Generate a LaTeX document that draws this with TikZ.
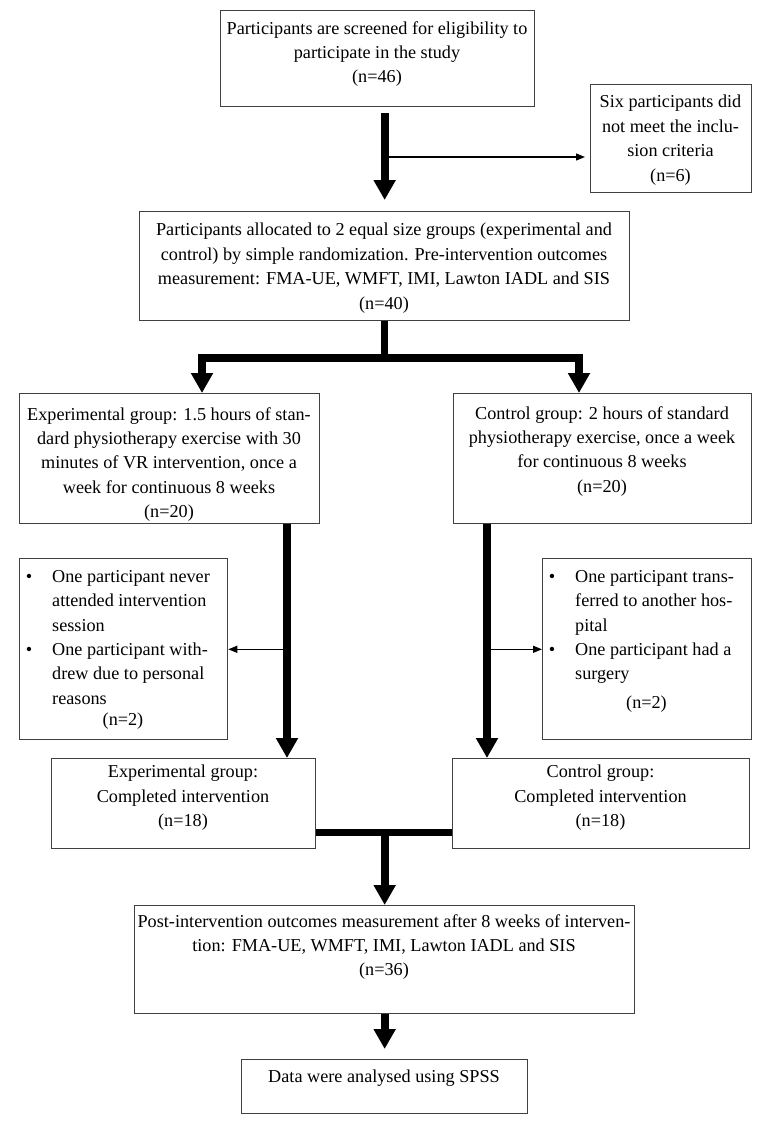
\documentclass[tikz,border=0pt]{standalone}
\usepackage{fontspec}
\setmainfont{Liberation Serif}
\usetikzlibrary{arrows.meta,calc}
\newcommand\figfont{\fontsize{18.2pt}{24.4pt}\selectfont}
\begin{document}
\begin{tikzpicture}[x=1pt,y=-1pt,
  box/.style={draw=black!75, line width=1.3pt, inner sep=0pt, anchor=north west},
  txt/.style={inner sep=0pt, align=center, font=\figfont, anchor=north},
  ltxt/.style={inner sep=0pt, align=left, font=\figfont, anchor=north west},
  ntxt/.style={inner sep=0pt, font=\figfont, anchor=base},
  thk/.style={line width=8pt, -{Triangle[width=21pt,length=20pt]}},
  thkboth/.style={line width=8pt, {Triangle[width=21pt,length=20pt]}-{Triangle[width=21pt,length=20pt]}},
  thkline/.style={line width=7pt},
  thn/.style={line width=1.3pt, -{Triangle[width=7pt,length=9pt]}}]
\useasboundingbox (0,0) rectangle (768,1129);
\fill[white] (0,0) rectangle (768,1129);

% boxes
\node[box, minimum width=314pt, minimum height=96pt]  (b1)  at (220,10) {};
\node[box, minimum width=161pt, minimum height=108pt] (bex) at (590,84) {};
\node[box, minimum width=490pt, minimum height=109pt] (b2)  at (139,211) {};
\node[box, minimum width=300pt, minimum height=130pt] (b3)  at (19,393) {};
\node[box, minimum width=298pt, minimum height=130pt] (b4)  at (453,393) {};
\node[box, minimum width=208pt, minimum height=181pt] (bl)  at (19,558) {};
\node[box, minimum width=209pt, minimum height=181pt] (br)  at (542,558) {};
\node[box, minimum width=264pt, minimum height=90pt]  (b5)  at (51,758) {};
\node[box, minimum width=297pt, minimum height=90pt]  (b6)  at (452,758) {};
\node[box, minimum width=500pt, minimum height=108pt] (b7)  at (134,905) {};
\node[box, minimum width=286pt, minimum height=54pt]  (b8)  at (241,1059) {};

% texts
\node[txt] (t1) at (377,21) {Participants are screened for eligibility to\\participate in the study\\(n=46)};
\node[txt] (tex) at (670.5,95) {Six participants did\\not meet the inclu-\\sion criteria\\(n=6)};
\node[txt] (t2) at (384,223) {Participants allocated to 2 equal size groups (experimental and\\control) by simple randomization. Pre-intervention outcomes\\measurement: FMA-UE, WMFT, IMI, Lawton IADL and SIS\\(n=40)};
\node[txt] (t3) at (169,407) {Experimental group: 1.5 hours of stan-\\dard physiotherapy exercise with 30\\minutes of VR intervention, once a\\week for continuous 8 weeks\\(n=20)};
\node[txt] (t4) at (602,406) {Control group: 2 hours of standard\\physiotherapy exercise, once a week\\for continuous 8 weeks\\(n=20)};
\node[ltxt] (tl) at (52,570) {\leavevmode\llap{\textbullet\hspace{20pt}}One participant never\\attended intervention\\session\\\leavevmode\llap{\textbullet\hspace{20pt}}One participant with-\\drew due to personal\\reasons};
\node[ntxt] (tln) at (123,725) {(n=2)};
\node[ltxt] (tr) at (575,570) {\leavevmode\llap{\textbullet\hspace{20pt}}One participant trans-\\ferred to another hos-\\pital\\\leavevmode\llap{\textbullet\hspace{20pt}}One participant had a\\surgery};
\node[ntxt] (trn) at (646.5,708) {(n=2)};
\node[txt] (t5) at (183,765) {Experimental group:\\Completed intervention\\(n=18)};
\node[txt] (t6) at (600.5,765) {Control group:\\Completed intervention\\(n=18)};
\node[txt] (t7) at (384,914) {Post-intervention outcomes measurement after 8 weeks of interven-\\tion: FMA-UE, WMFT, IMI, Lawton IADL and SIS\\(n=36)};
\node[txt] (t8) at (384,1070) {Data were analysed using SPSS};

% connectors
\draw[thk] ($(b1.south -| b2.north)+(0,6)$) -- ($(b2.north)+(0,-11)$);
\coordinate (j1) at ($(b2.north)+(0,-54)$);
\draw[thn] (j1) -- ($(j1 -| bex.west)+(-5,0)$);

\coordinate (s2) at ($(b2.south)+(0,37)$);
\draw[thkline] (b2.south) -- (s2);
\draw[thkboth] ($(b3.north west)+(183,0)$) |- (s2) -| ($(b4.north west)+(126,0)$);

\draw[thk] ($(b3.south west)+(268,0)$) -- ($(b5.north west)+(236,0)$);
\coordinate (jl) at ($(b3.south west)+(268,125)$);
\draw[thn] (jl) -- (jl -| bl.east);

\draw[thk] ($(b4.south west)+(34,0)$) -- ($(b6.north west)+(35,0)$);
\coordinate (jr) at ($(b4.south west)+(34,125)$);
\draw[thn] (jr) -- (jr -| br.west);

\draw[thkline] ($(b5.south east)+(0,-17)$) -- ($(b6.south west)+(0,-17)$);
\coordinate (s5) at ($(b7.north)+(0,-74)$);
\draw[thk] (s5) -- (b7.north);

\draw[thk] (b7.south) -- ($(b8.north)+(0,-10)$);
\end{tikzpicture}
\end{document}
